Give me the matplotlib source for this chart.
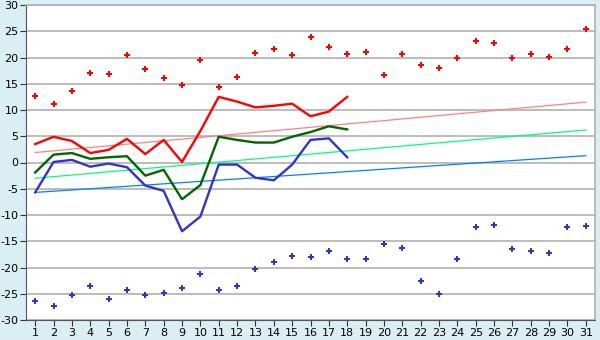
import numpy as np
import matplotlib
matplotlib.use("Agg")
import matplotlib.pyplot as plt

# categorias 1..31
dias = list(range(1, 32))

# puntos superiores (rojos) e inferiores (azules)
max_puntos = [12.6, 11.1, 13.6, 17.0, 16.8, 20.5, 17.8, 16.1, 14.7, 19.5,
              14.4, 16.3, 20.8, 21.6, 20.5, 23.9, 22.0, 20.7, 21.0, 16.7,
              20.7, 18.6, 18.0, 19.9, 23.1, 22.8, 19.9, 20.7, 20.1, 21.6, 25.4]
min_puntos = [-26.4, -27.4, -25.3, -23.6, -26.0, -24.3, -25.3, -24.9, -23.9, -21.3,
              -24.3, -23.6, -20.3, -19.0, -17.8, -18.0, -16.9, -18.4, -18.4, -15.6,
              -16.3, -22.6, -25.1, -18.4, -12.3, -11.9, -16.5, -16.9, -17.3, -12.3, -12.1]

# lineas (solo 18 dias)
linea_roja = [3.5, 4.9, 4.1, 1.8, 2.4, 4.5, 1.6, 4.3, 0.1, 6.0,
              12.5, 11.6, 10.5, 10.8, 11.2, 8.8, 9.7, 12.5]
linea_verde = [-1.9, 1.5, 1.8, 0.7, 1.0, 1.2, -2.5, -1.4, -7.0, -4.3,
               4.9, 4.3, 3.8, 3.8, 4.9, 5.8, 6.9, 6.3]
linea_azul = [-5.7, 0.1, 0.5, -0.8, -0.2, -0.9, -4.4, -5.4, -13.1, -10.3,
              -0.4, -0.4, -2.9, -3.4, -0.4, 4.3, 4.6, 1.0]

# tendencias (extremos en dia 1 y dia 31)
tend_x = [1, 31]
tend_roja = [1.9, 11.5]
tend_verde = [-3.0, 6.2]
tend_azul = [-5.7, 1.3]

plt.rcParams["axes.unicode_minus"] = False

fondo = "#daeef4"
fig = plt.figure(figsize=(6, 3.4), dpi=100, facecolor=fondo)
ax = fig.add_axes([26/600, 1-320/340, (595-26)/600, (320-5)/340])
ax.set_facecolor("white")

ax.yaxis.grid(True, color="#b0b0b0", linewidth=1.2)
ax.set_axisbelow(True)

ax.plot(tend_x, tend_roja, color="#ff8080", lw=0.9)
ax.plot(tend_x, tend_verde, color="#00ff80", lw=0.9)
ax.plot(tend_x, tend_azul, color="#0080ff", lw=0.9)

n = len(linea_roja)
ax.plot(dias[:n], linea_roja, color="#ff0000", lw=1.7)
ax.plot(dias[:n], linea_verde, color="#006600", lw=1.7)
ax.plot(dias[:n], linea_azul, color="#3333cc", lw=1.7)

ax.plot(dias, max_puntos, "P", color="#ff0000", ms=5, mew=0, ls="none")
ax.plot(dias, min_puntos, "P", color="#3333cc", ms=5, mew=0, ls="none")

ax.set_xlim(0.5, 31.5)
ax.set_ylim(-30, 30)
ax.set_xticks(dias)
ax.set_yticks(range(-30, 31, 5))
ax.tick_params(labelsize=8, length=4, color="#333333", pad=1.5)

for lado in ["top", "right"]:
    ax.spines[lado].set_color("#b0b0b0")
    ax.spines[lado].set_linewidth(1.2)
for lado in ["left", "bottom"]:
    ax.spines[lado].set_color("#555555")

fig.savefig("out.png", dpi=100, facecolor=fondo)
